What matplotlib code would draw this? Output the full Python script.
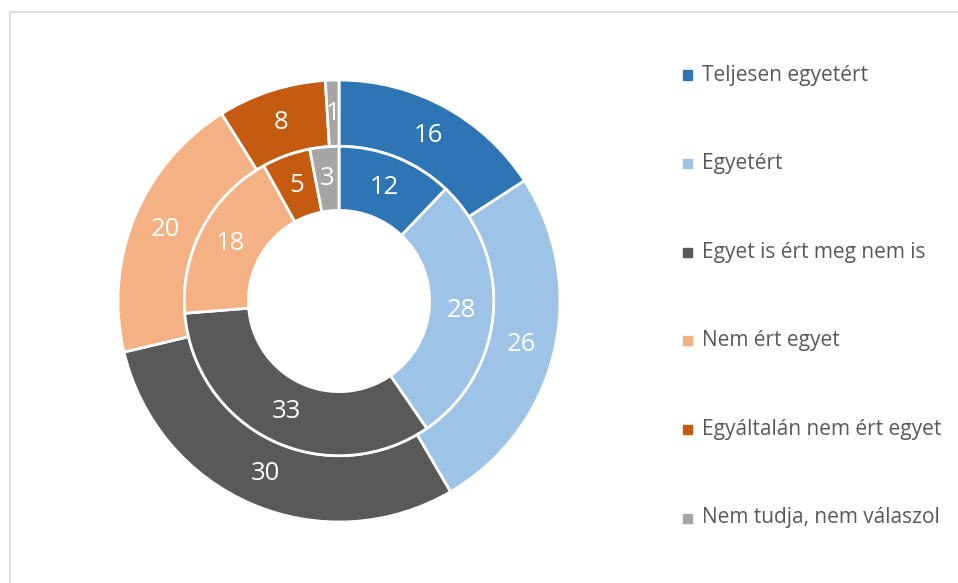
import numpy as np
import matplotlib.pyplot as plt
from matplotlib.patches import Rectangle

categories = ["Teljesen egyetért", "Egyetért", "Egyet is ért meg nem is",
              "Nem ért egyet", "Egyáltalán nem ért egyet", "Nem tudja, nem válaszol"]
outer_vals = [16, 26, 30, 20, 8, 1]
inner_vals = [12, 28, 33, 18, 5, 3]
colors = ["#2E75B6", "#9DC3E6", "#595959", "#F4B183", "#C55A11", "#A5A5A5"]

W, H = 958, 583
fig = plt.figure(figsize=(W / 100, H / 100), dpi=100)

# chart border
fig.add_artist(Rectangle((9.5 / W, -0.05), 1.1, 1 - 12.5 / H + 0.05,
                         transform=fig.transFigure, fill=False,
                         edgecolor="#D9D9D9", linewidth=1.2))

cx, cy, R = 339, 301, 221
ax = fig.add_axes([(cx - R) / W, (H - cy - R) / H, 2 * R / W, 2 * R / H])

r_mid = 0.70
r_hole = 0.41
wedge_kw = dict(edgecolor="white", linewidth=2)

w_out, _ = ax.pie(outer_vals, radius=1.0, colors=colors, startangle=90,
                  counterclock=False, wedgeprops=dict(width=1 - r_mid, **wedge_kw))
w_in, _ = ax.pie(inner_vals, radius=r_mid, colors=colors, startangle=90,
                 counterclock=False, wedgeprops=dict(width=r_mid - r_hole, **wedge_kw))

def put_labels(wedges, vals, r):
    for w, v in zip(wedges, vals):
        ang = np.deg2rad((w.theta1 + w.theta2) / 2)
        ax.text(r * np.cos(ang), r * np.sin(ang), str(v), color="white",
                fontsize=18.5, family="Open Sans", ha="center", va="center")

put_labels(w_out, outer_vals, 0.85)
put_labels(w_in, inner_vals, 0.555)

ax.set_xlim(-1, 1)
ax.set_ylim(-1, 1)
ax.set_aspect("equal")
ax.axis("off")

# legend
for i, (lab, col) in enumerate(zip(categories, colors)):
    y = 75 + i * 88.6
    fig.add_artist(Rectangle((683 / W, 1 - (y + 4.5) / H), 9 / W, 9 / H,
                             transform=fig.transFigure, color=col))
    fig.text(702 / W, 1 - y / H, lab, color="#595959", fontsize=15,
             family="Open Sans", ha="left", va="center")

fig.savefig("out.png", dpi=100)
